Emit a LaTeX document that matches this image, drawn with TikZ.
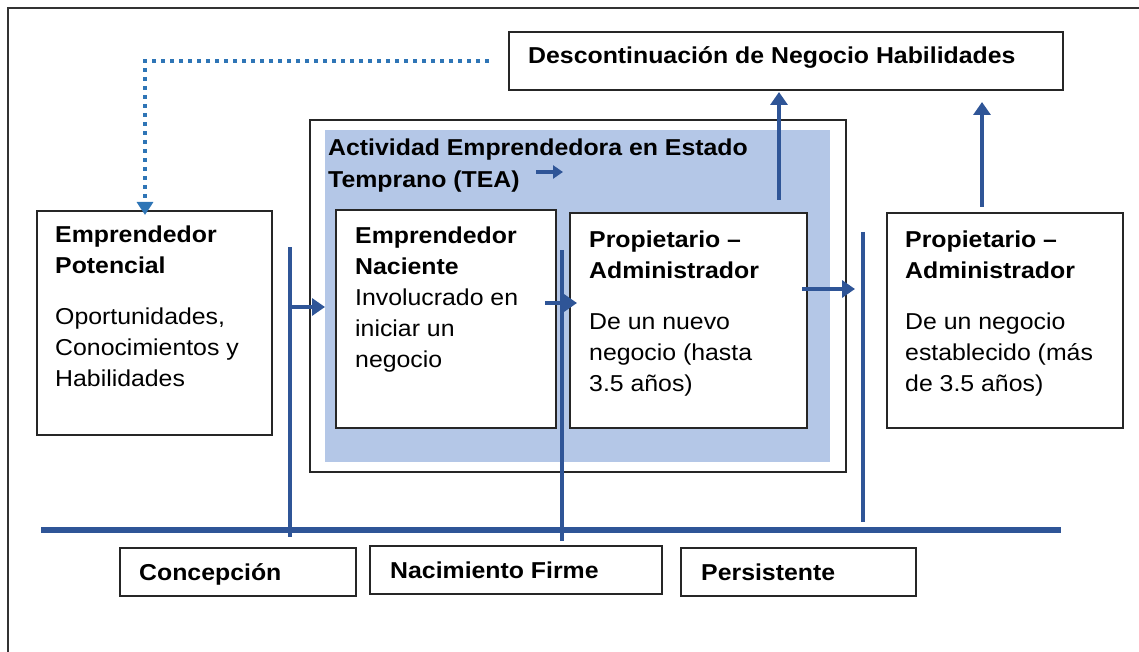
\documentclass[tikz,border=0pt]{standalone}
\usepackage{fontspec}
\setmainfont{Liberation Sans}[FakeStretch=1.08]
\usetikzlibrary{arrows.meta,positioning}
\definecolor{lineblue}{HTML}{2F5597}
\definecolor{teafill}{HTML}{B4C7E7}
\definecolor{dotblue}{HTML}{2E75B6}

\tikzset{
  box/.style={draw=black!85, line width=1.3pt, fill=white, anchor=north west, inner sep=0pt, outer sep=0pt},
  txt/.style={anchor=north west, inner sep=0pt, align=left, font=\fontsize{23}{31}\selectfont},
  lbl/.style={anchor=base west, inner sep=0pt, font=\fontsize{23}{31}\selectfont},
  stage/.style={draw=lineblue, line width=4pt},
  flow/.style={lineblue, line width=4.5pt, -{Triangle[length=13pt,width=17pt]}},
  back/.style={dotblue, line width=4pt, dash pattern=on 4.5pt off 4.5pt, -{Triangle[length=13pt,width=16pt]}}
}

\begin{document}
\begin{tikzpicture}[x=1pt,y=-1pt]
        \useasboundingbox (0,0) rectangle (1139,652);
        \draw [draw=black!80, line width=1.3pt] (8,660) -- (8,8) -- (1150,8);
%        \draw [help lines] (0,0) grid[step=50] (1139,652);

        % boxes
        \node [box, minimum width=554pt, minimum height=58pt] (desc) at (509,32) {};
        \node [box, minimum width=536pt, minimum height=352pt] (tea) at (310,120) {};
        \node [anchor=north west, fill=teafill, inner sep=0pt, minimum width=505pt, minimum height=332pt] (teabg) at (325,130) {};
        \node [box, minimum width=235pt, minimum height=224pt] (pot) at (37,211) {};
        \node [box, minimum width=220pt, minimum height=218pt] (nac) at (336,210) {};
        \node [box, minimum width=237pt, minimum height=215pt] (nuevo) at (570,213) {};
        \node [box, minimum width=236pt, minimum height=215pt] (estab) at (887,213) {};
        \node [box, minimum width=236pt, minimum height=48pt] (conc) at (120,548) {};
        \node [box, minimum width=292pt, minimum height=48pt] (firme) at (370,546) {};
        \node [box, minimum width=235pt, minimum height=48pt] (pers) at (681,548) {};

        % time line and stage marks
        \coordinate (axisl) at (41,530);
        \coordinate (axisr) at (1061,530);
        \draw [stage, line width=6pt] (axisl) -- (axisr);
        \coordinate (m1t) at (290,247);
        \coordinate (m1b) at (290,537);
        \coordinate (m2t) at (562,250);
        \coordinate (m2b) at (562,541);
        \coordinate (m3t) at (863,232);
        \coordinate (m3b) at (863,522);
        \draw [stage] (m1t) -- (m1b);
        \draw [stage] (m2t) -- (m2b);
        \draw [stage] (m3t) -- (m3b);

        % arrows
        \coordinate (a1) at (290,307);
        \coordinate (a2) at (545,303);
        \coordinate (a2e) at (577,303);
        \coordinate (a3) at (802,289);
        \coordinate (a3e) at (855,289);
        \coordinate (u1) at (779,200);
        \coordinate (u2) at (982,207);
        \coordinate (u2e) at (982,102);
        \coordinate (dcorner) at (145,61);
        \coordinate (t1) at (536,172);
        \coordinate (t1e) at (563,172);
        \draw [flow] (a1) -- (a1 -| teabg.west);
        \draw [flow] (a2) -- (a2e);
        \draw [flow] (a3) -- (a3e);
        \draw [flow] (u1) -- ([yshift=-2pt]u1 |- desc.south);
        \draw [flow] (u2) -- (u2e);
        \draw [flow, line width=3.5pt, -{Triangle[length=10pt,width=13pt]}] (t1) -- (t1e);
        \draw [back] ([xshift=-20pt]desc.west) -- (dcorner) -- ([yshift=-4pt]dcorner |- pot.north);

        % texts
        \node [lbl] (desc-t) at (528,64) {\textbf{Descontinuación de Negocio Habilidades}};
        \node [txt, font=\fontsize{23}{32}\selectfont] (tea-t) at (328,138.5) {\textbf{Actividad Emprendedora en Estado}\\\textbf{Temprano (TEA)}};
        \node [txt] (pot-t) at (55,225.5) {\textbf{Emprendedor}\\\textbf{Potencial}\\[20pt]Oportunidades,\\Conocimientos y\\Habilidades};
        \node [txt] (nac-t) at (355,226.5) {\textbf{Emprendedor}\\\textbf{Naciente}\\Involucrado en\\iniciar un\\negocio};
        \node [txt] (nuevo-t) at (589,230.5) {\textbf{Propietario –}\\\textbf{Administrador}\\[20pt]De un nuevo\\negocio (hasta\\3.5 años)};
        \node [txt] (estab-t) at (905,230.5) {\textbf{Propietario –}\\\textbf{Administrador}\\[20pt]De un negocio\\establecido (más\\de 3.5 años)};
        \node [lbl] (conc-t) at (139,580) {\textbf{Concepción}};
        \node [lbl] (firme-t) at (390,578) {\textbf{Nacimiento Firme}};
        \node [lbl] (pers-t) at (701,580) {\textbf{Persistente}};
\end{tikzpicture}
\end{document}
